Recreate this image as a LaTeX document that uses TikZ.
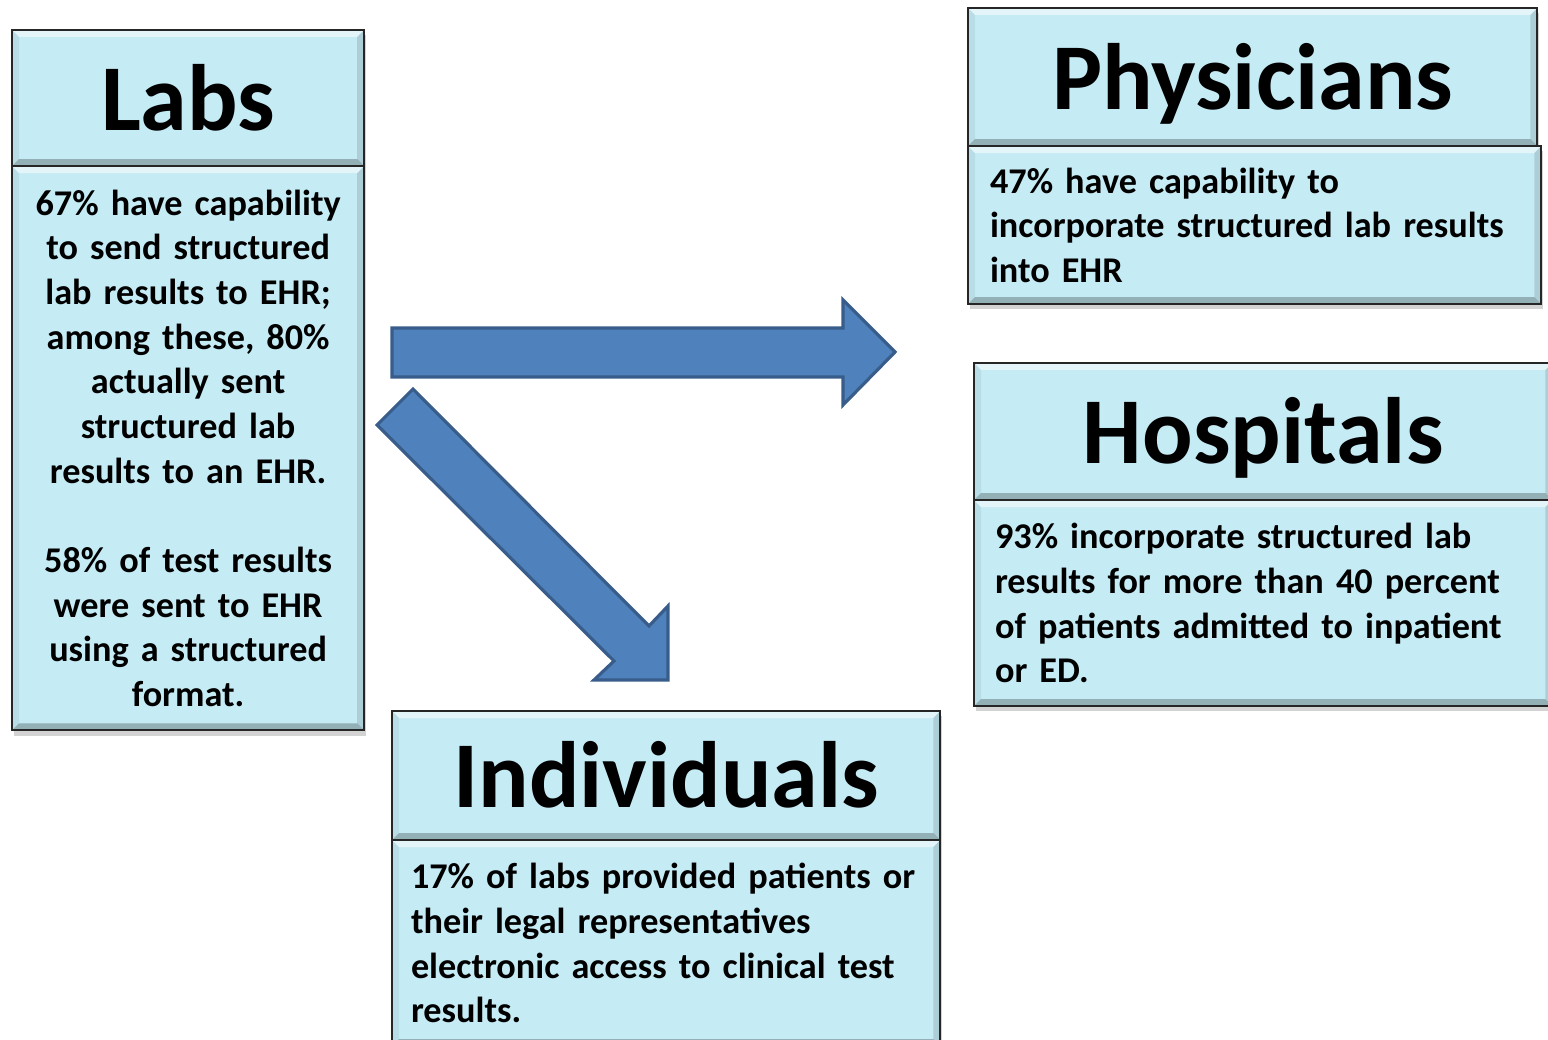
\documentclass[tikz,border=0pt]{standalone}
\usepackage{fontspec}
\setmainfont{Carlito}
\usetikzlibrary{positioning,shadows}
\definecolor{boxfill}{RGB}{197,235,245}
\definecolor{arrowfill}{RGB}{79,129,189}
\definecolor{arrowline}{RGB}{56,93,138}
\tikzset{
  panel/.style={draw=black!85, line width=0.6pt, fill=boxfill, inner sep=0pt, outer sep=0pt,
    drop shadow={shadow xshift=0.5pt, shadow yshift=-1.5pt, opacity=0.35},
    path picture={
      \fill[white, opacity=0.55] (path picture bounding box.north west) -- (path picture bounding box.north east)
        -- ([shift={(-7,7)}]path picture bounding box.north east) -- ([shift={(7,7)}]path picture bounding box.north west) -- cycle;
      \fill[black, opacity=0.25] (path picture bounding box.south west) -- (path picture bounding box.south east)
        -- ([shift={(-7,-7)}]path picture bounding box.south east) -- ([shift={(7,-7)}]path picture bounding box.south west) -- cycle;
      \fill[black, opacity=0.12] (path picture bounding box.north east) -- (path picture bounding box.south east)
        -- ([shift={(-7,-7)}]path picture bounding box.south east) -- ([shift={(-7,7)}]path picture bounding box.north east) -- cycle;
      \fill[black, opacity=0.06] (path picture bounding box.north west) -- (path picture bounding box.south west)
        -- ([shift={(7,-7)}]path picture bounding box.south west) -- ([shift={(7,7)}]path picture bounding box.north west) -- cycle;
    }},
  titlebox/.style={panel, text height=21pt, text depth=2.6pt, font=\bfseries\fontsize{26.8}{32}\selectfont},
  bodybox/.style={panel, font=\bfseries\fontsize{10.3}{12.7}\selectfont},
  blockarrow/.style={fill=arrowfill, draw=arrowline, line width=0.9pt, line join=miter}
}

\begin{document}
\begin{tikzpicture}[x=0.01cm, y=-0.01cm]
    \useasboundingbox (0,0) rectangle (1548,1040);
    \clip (0,0) rectangle (1548,1040);
    \node[titlebox, anchor=north west, minimum width=3.52cm, minimum height=1.36cm] (labs) at (12,30) {Labs};
    \node[bodybox, below=0pt of labs, minimum width=3.52cm, minimum height=5.64cm, text width=3.4cm, align=center] (labsbody)
        {67\% have capability\\ to send structured\\ lab results to EHR;\\ among these, 80\%\\ actually sent\\ structured lab\\ results to an EHR.\\[12.7pt]
         58\% of test results\\ were sent to EHR\\ using a structured\\ format.};
    \node[titlebox, anchor=north west, minimum width=5.69cm, minimum height=1.38cm] (phys) at (968,8) {Physicians};
    \node[bodybox, anchor=north west, minimum width=5.73cm, minimum height=1.58cm, text width=5.29cm, align=left] (physbody) at (phys.south west)
        {47\% have capability to\\ incorporate structured lab results\\ into EHR};
    \node[titlebox, anchor=north west, minimum width=5.78cm, minimum height=1.37cm] (hosp) at (974,363) {Hospitals};
    \node[bodybox, below=0pt of hosp, minimum width=5.78cm, minimum height=2.06cm, text width=5.36cm, align=left] (hospbody)
        {93\% incorporate structured lab\\ results for more than 40 percent\\ of patients admitted to inpatient\\ or ED.};
    \node[titlebox, anchor=north west, minimum width=5.48cm, minimum height=1.29cm] (indiv) at (392,711) {Individuals};
    \node[bodybox, below=0pt of indiv, minimum width=5.48cm, minimum height=2.06cm, text width=5.1cm, align=left] (indivbody)
        {17\% of labs provided patients or\\ their legal representatives\\ electronic access to clinical test\\ results.};
    \draw[blockarrow] (392,328) -- (843,328) -- (843,300) -- (895,352) -- (843,405) -- (843,377) -- (392,377) -- cycle;
    \draw[blockarrow] (377,425) -- (413,389) -- (649,626) -- (668,606) -- (668,680) -- (594,680) -- (614,661) -- cycle;
\end{tikzpicture}
\end{document}
